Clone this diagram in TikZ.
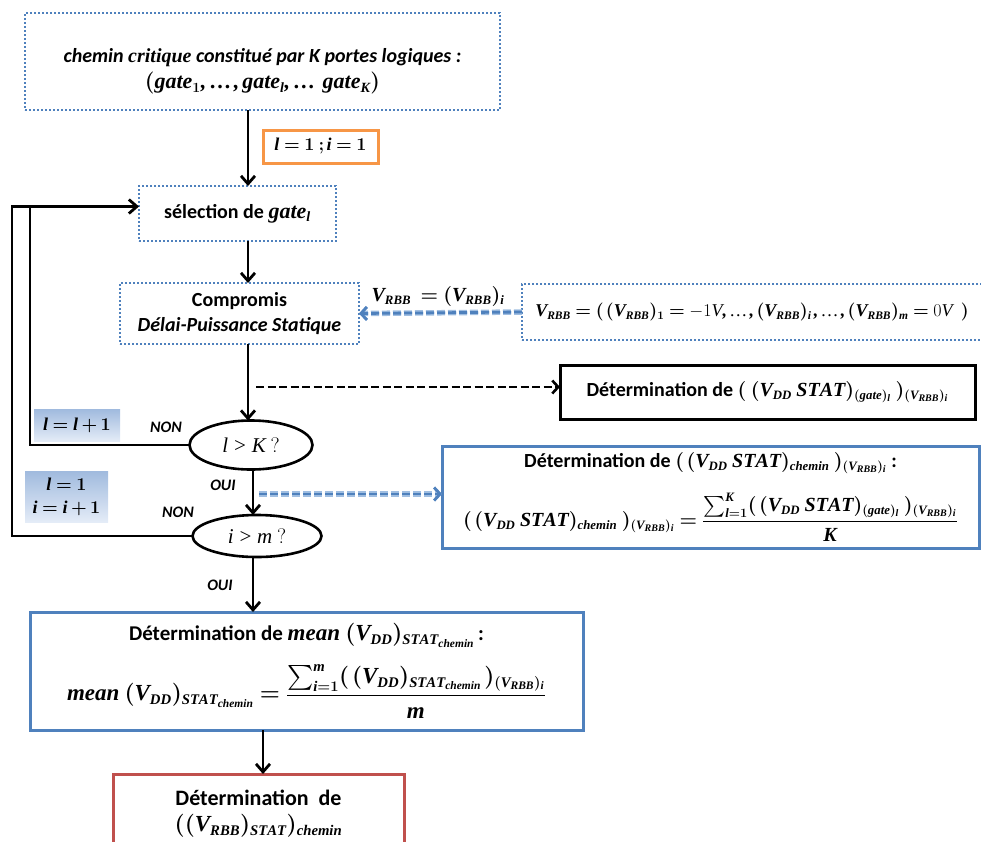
\RequirePackage{fix-cm}
\documentclass[tikz,border=0pt]{standalone}
\usepackage{amsmath}
\usepackage[no-math]{fontspec}
\setmainfont{Carlito}
\newfontfamily\mfam[NFSSFamily=libser]{Liberation Serif}
\DeclareSymbolFont{letters}{TU}{libser}{m}{it}
\SetSymbolFont{letters}{bold}{TU}{libser}{b}{it}
\DeclareMathSymbol{,}{\mathpunct}{letters}{"2C}
\DeclareMathSymbol{.}{\mathord}{letters}{"2E}
\DeclareMathSymbol{\ldotp}{\mathpunct}{letters}{"2E}
\renewcommand\defaultscriptratio{.64}
\renewcommand\defaultscriptscriptratio{.5}
\thickmuskip=4mu plus 2mu
\medmuskip=3mu plus 1mu
\thinmuskip=2mu
\newcommand{\elli}{\mathinner{\text{\mfam …}}}
\usetikzlibrary{arrows.meta,shapes.geometric,calc}
\definecolor{obl}{RGB}{79,129,189}
\definecolor{obllight}{RGB}{160,190,225}
\definecolor{oor}{RGB}{247,150,70}
\definecolor{ore}{RGB}{192,80,77}
\definecolor{gradA}{RGB}{160,186,222}
\definecolor{gradB}{RGB}{228,236,247}
\begin{document}
\begin{tikzpicture}[x=1pt,y=-1pt,
  every node/.style={inner sep=0pt,outer sep=0pt},
  txt/.style={font=\fontsize{20}{25}\selectfont\bfseries\boldmath, align=center},
  lbl/.style={font=\fontsize{16}{19}\selectfont\bfseries\itshape},
  dotbox/.style={rectangle, draw=obl, line width=2pt, dash pattern=on 2pt off 2pt},
  bluebox/.style={rectangle, draw=obl, line width=3pt},
  blackbox/.style={rectangle, draw=black, line width=3pt},
  gradbox/.style={rectangle, top color=gradA, bottom color=gradB, font=\fontsize{18}{23}\selectfont\boldmath, align=center},
  decision/.style={ellipse, draw=black, line width=2.6pt, font=\fontsize{21}{24}\selectfont},
  flow/.style={line width=2.8pt, -{Straight Barb[length=8pt,width=14pt,line width=2.8pt]}},
  plain/.style={line width=2.8pt},
  bdash/.style={draw=obl, line width=2.8pt, dash pattern=on 8pt off 3pt, -{Straight Barb[length=6pt,width=13pt,line width=2.8pt]},
    preaction={draw=obllight, line width=5.5pt, dash pattern=on 8pt off 3pt}},
  kdash/.style={line width=2.8pt, dash pattern=on 8pt off 3.5pt, -{Straight Barb[length=6pt,width=13pt,line width=2.6pt]}}
]
\useasboundingbox (0,0) rectangle (981,841);

% columns
\coordinate (c1) at (248,0);
\coordinate (c2) at (253,0);
\coordinate (c3) at (263,0);
\coordinate (lx1) at (30,0);
\coordinate (lx2) at (12,0);

% nodes
\node[dotbox, minimum width=475pt, minimum height=97pt,
  label={[txt, yshift=-10pt]center:{\textit{chemin $critique$ constitué par K portes logiques :}\\[1pt]
   {\fontsize{22}{26}\selectfont$(gate_1, \elli, gate_l, \elli\ gate_K)$}}}] (top) at (262.5,61.5) {};
\node[rectangle, draw=oor, line width=3pt, txt, font=\fontsize{18}{22}\selectfont\boldmath,
  minimum width=115pt, minimum height=33pt] (init) at (320.5,146.5) {$l = 1\ ; i = 1$};
\node[dotbox, txt, minimum width=197pt, minimum height=55pt] (sel) at (237.5,213.5)
  {sélection de {\fontsize{22}{25}\selectfont$gate_l$}};
\node[dotbox, txt, minimum width=239pt, minimum height=61pt] (comp) at (239.5,313.5)
  {Compromis\\ \textit{Délai-Puissance Statique}};
\node[txt, font=\fontsize{20}{24}\selectfont\boldmath] (vlab) at (438,296) {$V_{RBB}\ = (V_{RBB})_i$};
\node[dotbox, minimum width=468pt, minimum height=56pt,
  label={[txt, font=\fontsize{18}{24}\selectfont\boldmath, xshift=-4pt]center:{$V_{RBB} = (\,(V_{RBB})_1 = \text{\mathversion{normal}$-1V$}, \elli, (V_{RBB})_i\,, \elli, (V_{RBB})_m = \text{\mathversion{normal}$0V$}\ \ )$}}] (vset) at (756,312) {};
\node[blackbox, txt, minimum width=415pt, minimum height=54pt] (gbox) at (767.5,392)
  {Détermination de $(\ (V_{DD}\ STAT)_{(gate)_l}\ )_{(V_{RBB})_i}$};
\node[decision, minimum width=123pt, minimum height=49pt] (lK) at (251,445) {$l > K\ ?$};
\node[decision, minimum width=129pt, minimum height=42pt] (im) at (257,536) {$i > m\ ?$};
\node[gradbox, minimum width=86pt, minimum height=32pt] (inc1) at (77,425) {$l = l+1$};
\node[gradbox, minimum width=83pt, minimum height=51pt] (inc2) at (66.5,496.5) {$l = 1$\\ $i = i+1$};
\node[lbl] (non1) at (166,427) {NON};
\node[lbl] (oui1) at (223,485) {OUI};
\node[lbl] (non2) at (178,512) {NON};
\node[lbl] (oui2) at (220,585) {OUI};
\node[bluebox, txt, minimum width=537pt, minimum height=102pt] (chem) at (710.5,497)
  {Détermination de $(\,(V_{DD}\ STAT)_{chemin}\ )_{(V_{RBB})_i}$ :\\[18pt]
   {\fontsize{20}{25}\selectfont$(\,(V_{DD}\ STAT)_{chemin}\ )_{(V_{RBB})_i} = \dfrac{\sum\nolimits_{l=1}^{K}(\,(V_{DD}\ STAT)_{(gate)_l}\ )_{(V_{RBB})_i}}{K}$}};
\node[bluebox, txt, font=\fontsize{21}{25}\selectfont\bfseries\boldmath, minimum width=553pt, minimum height=118pt] (mean) at (306.5,671)
  {Détermination de\ {\fontsize{23}{26}\selectfont$mean\ (V_{DD})_{STAT_{chemin}}$}\,:\\[16pt]
   {\fontsize{23}{26}\selectfont$mean\ (V_{DD})_{STAT_{chemin}} = \dfrac{\sum\nolimits_{i=1}^{m}(\,(V_{DD})_{STAT_{chemin}}\,)_{(V_{RBB})_i}}{m}$}};
\node[rectangle, draw=ore, line width=3pt, txt, font=\fontsize{22}{26}\selectfont\bfseries\boldmath, minimum width=291pt, minimum height=80pt] (res) at (258.5,814)
  {Détermination\ \ de\\ {\fontsize{23}{26}\selectfont$((V_{RBB})_{STAT})_{chemin}$}};

% connectors
\draw[flow] (top.south -| c1) -- (sel.north -| c1);
\draw[flow] (sel.south -| c1) -- (comp.north -| c1);
\draw[flow] (comp.south -| c1) -- (lK.north -| c1);
\draw[flow] (lK.south -| c2) -- (im.north -| c2);
\draw[flow] (im.south -| c2) -- (mean.north -| c2);
\draw[flow] (mean.south -| c3) -- (res.north -| c3);
\draw[bdash] (vset.west) -- (comp.east);
\coordinate (k0) at (256,387);
\draw[kdash] (k0) -- (k0 -| gbox.west);
\coordinate (b0) at (259,494);
\draw[bdash] (b0) -- (b0 -| chem.west);
\coordinate (jn) at ($(sel.west)+(0,-7)$);
\draw[plain] (lK.west) -| (jn -| lx1);
\draw[flow] (im.west) -| (jn -| lx2) -- (jn);
\end{tikzpicture}
\end{document}
